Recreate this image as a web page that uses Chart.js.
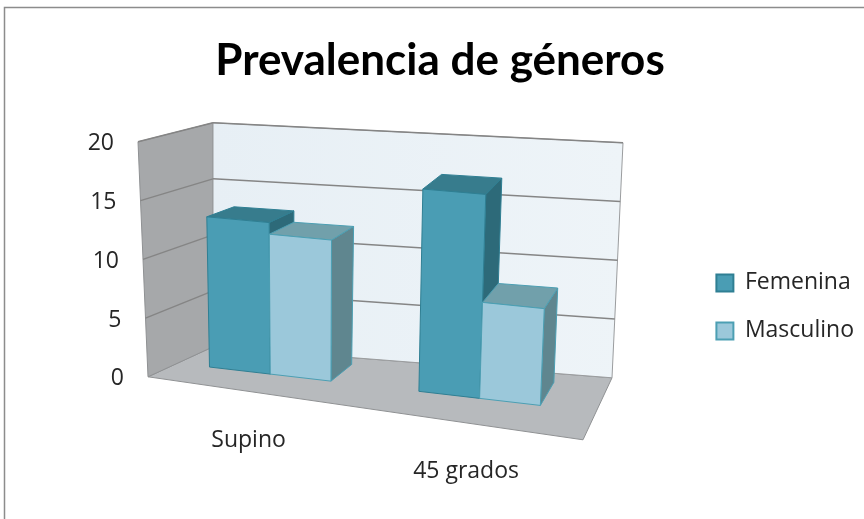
<!DOCTYPE html>
<html>
<head>
<meta charset="utf-8">
<title>Prevalencia de géneros</title>
<script src="https://cdn.jsdelivr.net/npm/chart.js@4.4.0/dist/chart.umd.min.js"></script>
<style>
  html, body { margin: 0; padding: 0; background: #fff; }
  #caja { width: 864px; height: 519px; position: relative; }
</style>
</head>
<body>
<div id="caja"><canvas id="grafico"></canvas></div>
<script>
// Datos del gráfico
const posiciones = ['Supino', '45 grados'];
const femenina = [13, 17];
const masculino = [12, 8];
const valoresEje = [0, 5, 10, 15, 20];

// Colores de las caras de cada serie (frente, techo, lado, borde)
const caras = [
  { frente: '#4A9DB4', techo: '#377C8D', lado: '#2D6A79', borde: '#2F7F93' },
  { frente: '#9BC8DA', techo: '#71A0AB', lado: '#5F868F', borde: '#4C9FB3' }
];

// Esquinas de la caja 3D, en px relativos a chartArea.left / chartArea.top
// f = frente, b = fondo, l = izquierda, r = derecha, 0 = suelo, 1 = máximo del eje
const CAJA = {
  fl0: [10, 235], fl1: [0, 0],
  fr0: [445, 298], fr1: [458, 47],
  bl0: [75, 205], bl1: [75, -19],
  br0: [474, 236], br1: [485, 1]
};
const Z_FRENTE = 0.45;   // profundidad de la cara frontal de las barras
const Z_FONDO = 0.85;    // profundidad de la cara trasera
const U_DESPLAZ = 0.028;

function mezcla(a, b, t) {
  return [a[0] + (b[0] - a[0]) * t, a[1] + (b[1] - a[1]) * t];
}

// u: posición horizontal (0..1), v: altura (0..1), z: profundidad (0 frente, 1 fondo)
function proyectar(ca, u, v, z) {
  const f0 = mezcla(CAJA.fl0, CAJA.fr0, u), f1 = mezcla(CAJA.fl1, CAJA.fr1, u);
  const b0 = mezcla(CAJA.bl0, CAJA.br0, u), b1 = mezcla(CAJA.bl1, CAJA.br1, u);
  const p = mezcla(mezcla(f0, f1, v), mezcla(b0, b1, v), z);
  return [ca.left + p[0], ca.top + p[1]];
}

function poligono(ctx, pts, relleno, trazo, grosor) {
  ctx.beginPath();
  ctx.moveTo(pts[0][0], pts[0][1]);
  for (let i = 1; i < pts.length; i++) ctx.lineTo(pts[i][0], pts[i][1]);
  ctx.closePath();
  if (relleno) { ctx.fillStyle = relleno; ctx.fill(); }
  if (trazo) { ctx.strokeStyle = trazo; ctx.lineWidth = grosor || 1; ctx.stroke(); }
}

function linea(ctx, a, b) {
  ctx.beginPath();
  ctx.moveTo(a[0], a[1]);
  ctx.lineTo(b[0], b[1]);
  ctx.stroke();
}

// Dibuja paredes, suelo y barras en 3D a partir de las escalas de Chart.js
const barras3d = {
  id: 'barras3d',
  beforeDatasetsDraw(chart) {
    const ctx = chart.ctx, ca = chart.chartArea, ys = chart.scales.y;
    const P = (u, v, z) => proyectar(ca, u, v, z);
    const fu = px => (px - ca.left) / ca.width - U_DESPLAZ;
    const fv = py => (ys.bottom - py) / (ys.bottom - ys.top);

    ctx.save();
    // suelo
    poligono(ctx, [P(0, 0, 0), P(1, 0, 0), P(1, 0, 1), P(0, 0, 1)], '#B7BABD', '#8F9193', 1);
    // pared izquierda
    poligono(ctx, [P(0, 0, 0), P(0, 1, 0), P(0, 1, 1), P(0, 0, 1)], '#A6A8AA', '#8F9193', 1);
    // pared del fondo
    const a = P(0, 0, 1), b = P(1, 1, 1);
    const deg = ctx.createLinearGradient(a[0], 0, b[0], 0);
    deg.addColorStop(0, '#E7EFF5');
    deg.addColorStop(1, '#EEF4F8');
    poligono(ctx, [P(0, 0, 1), P(0, 1, 1), P(1, 1, 1), P(1, 0, 1)], deg, '#9A9C9E', 1);

    // líneas de división
    ctx.strokeStyle = '#858585';
    ctx.lineWidth = 1.4;
    ys.ticks.forEach(t => {
      const v = (t.value - ys.min) / (ys.max - ys.min);
      if (v === 0) return;
      linea(ctx, P(0, v, 0), P(0, v, 1));
      linea(ctx, P(0, v, 1), P(1, v, 1));
    });

    // barras: lado, techo y frente, de izquierda a derecha
    posiciones.forEach((_, i) => {
      chart.data.datasets.forEach((ds, d) => {
        if (!chart.isDatasetVisible(d)) return;
        const bar = chart.getDatasetMeta(d).data[i];
        const u1 = fu(bar.x - bar.width / 2), u2 = fu(bar.x + bar.width / 2);
        const v0 = fv(bar.base), v1 = fv(bar.y);
        const c = caras[d];
        poligono(ctx, [P(u2, v0, Z_FRENTE), P(u2, v0, Z_FONDO), P(u2, v1, Z_FONDO), P(u2, v1, Z_FRENTE)], c.lado, c.borde, 1);
        poligono(ctx, [P(u1, v1, Z_FRENTE), P(u2, v1, Z_FRENTE), P(u2, v1, Z_FONDO), P(u1, v1, Z_FONDO)], c.techo, c.borde, 1);
        poligono(ctx, [P(u1, v0, Z_FRENTE), P(u2, v0, Z_FRENTE), P(u2, v1, Z_FRENTE), P(u1, v1, Z_FRENTE)], c.frente, c.borde, 1);
      });
    });
    ctx.restore();
    return false;
  },
  afterDraw(chart) {
    const ctx = chart.ctx, ca = chart.chartArea, ys = chart.scales.y, xs = chart.scales.x;
    const P = (u, v, z) => proyectar(ca, u, v, z);
    ctx.save();
    ctx.fillStyle = '#262626';
    ctx.font = '23px "Open Sans"';

    // etiquetas del eje de valores, sobre la arista frontal izquierda
    ctx.textAlign = 'right';
    ctx.textBaseline = 'middle';
    ys.ticks.forEach(t => {
      const v = (t.value - ys.min) / (ys.max - ys.min);
      const p = P(0, v, 0);
      ctx.fillText(String(t.value), p[0] - 24, p[1] + 2);
    });

    // etiquetas de categoría, bajo el borde frontal del suelo
    ctx.textAlign = 'center';
    ctx.textBaseline = 'alphabetic';
    posiciones.forEach((nombre, i) => {
      const u = (xs.getPixelForValue(i) - ca.left) / ca.width - U_DESPLAZ;
      const p = P(u, 0, 0);
      ctx.fillText(nombre, p[0] + 4, p[1] + 56);
    });

    // marco del gráfico
    ctx.strokeStyle = '#8C8C8C';
    ctx.lineWidth = 1.5;
    ctx.strokeRect(4.5, 7.5, 900, 600);
    ctx.restore();
  }
};

new Chart(document.getElementById('grafico'), {
  type: 'bar',
  data: {
    labels: posiciones,
    datasets: [
      { label: 'Femenina', data: femenina, backgroundColor: caras[0].frente, borderColor: caras[0].borde, borderWidth: 2 },
      { label: 'Masculino', data: masculino, backgroundColor: caras[1].frente, borderColor: caras[1].borde, borderWidth: 2 }
    ]
  },
  options: {
    responsive: true,
    maintainAspectRatio: false,
    animation: false,
    layout: { padding: { left: 16, right: 0, top: 0, bottom: 47 } },
    datasets: { bar: { categoryPercentage: 0.58, barPercentage: 1 } },
    plugins: {
      title: {
        display: true,
        text: 'Prevalencia de géneros',
        color: '#000',
        font: { family: 'Lato', size: 44, weight: 'bold' },
        padding: { top: 34, bottom: 55 }
      },
      legend: {
        position: 'right',
        fullSize: false,
        labels: {
          color: '#262626',
          font: { family: 'Open Sans', size: 23 },
          boxWidth: 17,
          boxHeight: 17,
          padding: 25
        }
      },
      tooltip: { enabled: false }
    },
    scales: {
      x: { display: false, offset: true },
      y: {
        min: 0,
        max: 20,
        ticks: { display: false },
        grid: { display: false },
        border: { display: false },
        afterBuildTicks: s => { s.ticks = valoresEje.map(v => ({ value: v })); },
        afterFit: s => { s.width = 122; }
      }
    }
  },
  plugins: [barras3d]
});
</script>
</body>
</html>
